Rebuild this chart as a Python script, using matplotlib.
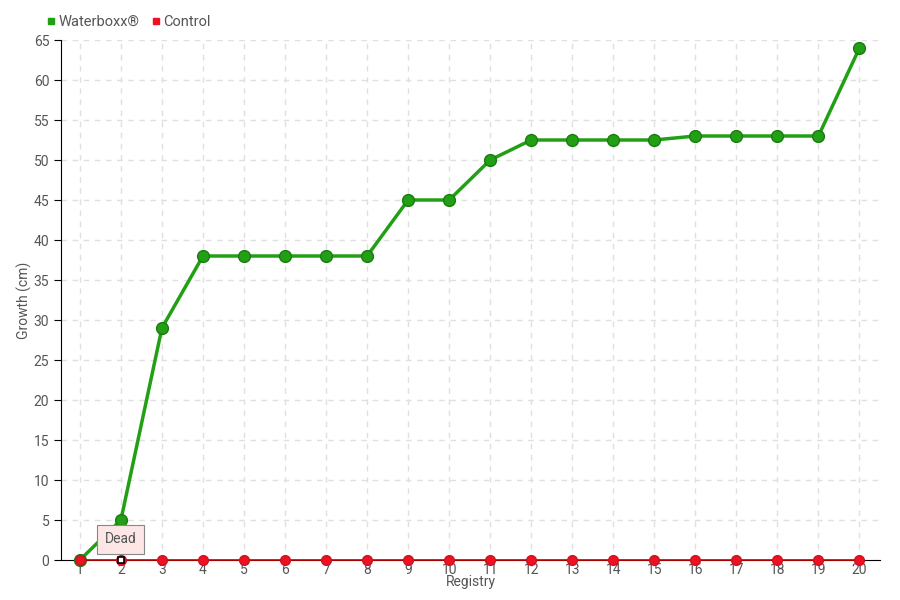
import matplotlib
matplotlib.use("Agg")
import matplotlib.pyplot as plt

registry = list(range(1, 21))
waterboxx = [0, 5, 29, 38, 38, 38, 38, 38, 45, 45, 50, 52.5, 52.5, 52.5, 52.5, 53, 53, 53, 53, 64]
control = [0] * 20

plt.rcParams['font.family'] = ['Roboto', 'DejaVu Sans']
txt = '#555555'
fs = 10

fig = plt.figure(figsize=(9, 6), dpi=100)
ax = fig.add_axes([61 / 900, 40 / 600, 819 / 900, 520 / 600])

ax.plot(registry, waterboxx, color='#22a015', lw=2.5, marker='o', ms=8.5,
        mfc='#22a015', mec='#1b7a10', zorder=5, clip_on=False)
ax.plot(registry, control, color='#cc0000', lw=1.2, zorder=6, clip_on=False)
ax.plot(registry, control, 'o', ms=7, color='#ee1122', mec='#cc1122', zorder=7,
        ls='none', clip_on=False)
# dead plant marker
ax.plot([2], [0], 's', ms=5, mfc='white', mec='black', mew=1.2, zorder=8, clip_on=False)
ax.annotate('Dead', xy=(2, 0), xytext=(2, 2.6), ha='center', va='center',
            fontsize=fs, color=txt,
            bbox=dict(boxstyle='square,pad=0.55', fc='#fde6e6', ec='#888888', lw=0.8),
            zorder=9)

ax.set_xlim(0.54, 20.5)
ax.set_ylim(0, 65)
ax.set_xticks(registry)
ax.set_yticks(range(0, 66, 5))
ax.grid(True, ls=(0, (4, 4)), color='#e0e0e0', lw=1)
ax.set_axisbelow(True)
for s in ['top', 'right']:
    ax.spines[s].set_visible(False)
ax.spines['left'].set_color('black')
ax.spines['bottom'].set_color('black')
ax.tick_params(axis='y', length=5, labelcolor=txt, color='black', labelsize=fs)
ax.tick_params(axis='x', length=0, labelcolor=txt, labelsize=fs, pad=2)
ax.set_xlabel('Registry', color=txt, fontsize=fs, labelpad=-1)
ax.set_ylabel('Growth (cm)', color=txt, fontsize=fs)
ax.yaxis.set_label_coords(-0.035, 0.5)

h1 = plt.Line2D([], [], marker='s', ls='none', color='#22a015', ms=5)
h2 = plt.Line2D([], [], marker='s', ls='none', color='#ee1122', ms=5)
fig.legend([h1, h2], ['Waterboxx®', 'Control'], loc='upper left',
           bbox_to_anchor=(31 / 900, 1 - 2 / 600), ncol=2, frameon=False,
           handletextpad=0.0, columnspacing=0.6, fontsize=fs + 0.5, labelcolor=txt,
           handlelength=1.0)

fig.savefig('out.png', dpi=100)
